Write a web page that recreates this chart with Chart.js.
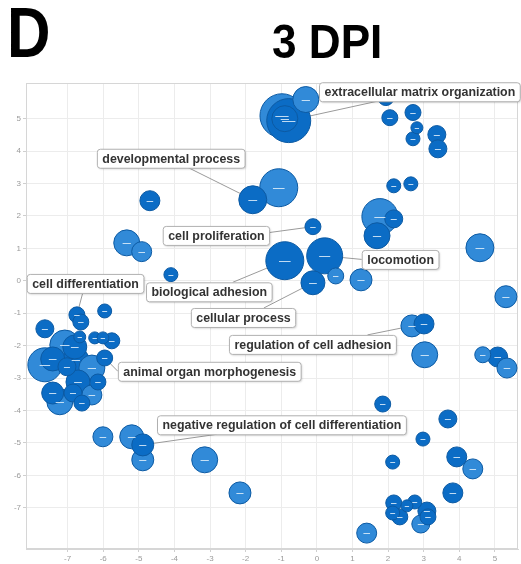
<!DOCTYPE html>
<html>
<head>
<meta charset="utf-8">
<script src="https://cdn.jsdelivr.net/npm/chart.js@4/dist/chart.umd.min.js"></script>
<style>
  html, body { margin: 0; padding: 0; background: #fff; }
  canvas { display: block; }
</style>
</head>
<body>
<canvas id="bubble-chart" width="521" height="564"></canvas>
<script>
// tick labels
var xTicks = [-7, -6, -5, -4, -3, -2, -1, 0, 1, 2, 3, 4, 5];
var yTicks = [-7, -6, -5, -4, -3, -2, -1, 0, 1, 2, 3, 4, 5];

// bubble values (semantic space x, y, bubble size, shade 0 = dark / 1 = light)
var bubbleX = [-0.98, -0.79, -0.90, -0.31, 1.94, 2.05, 2.70, 2.81, 2.70, 3.37, 3.40,
  -1.07, -1.80, -4.69, -0.11, 2.16, 2.64, 1.77, 1.69, 2.16, -5.34, -4.92, 4.58, -4.10,
  -0.90, 0.22, -0.11, 0.53, 1.24, 5.31, 2.67, 3.01, 3.03, 4.66, 5.08, 5.34,
  1.85, 3.68, 2.98, 2.13, 3.93, 4.38, 3.82, 2.16, 2.53, 2.75, 2.13, 2.33, 3.09, 2.92, 3.12, 1.40,
  -6.01, -5.20, -4.89, -4.89, -3.15, -2.16,
  -7.64, -6.80, -7.42, -6.77, -7.02, -7.64, -6.74, -6.63, -5.96, -6.66, -6.24, -6.01, -5.76,
  -5.96, -6.15, -6.71, -7.42, -6.85, -7.22, -6.60, -6.32, -7.08, -6.32];
var bubbleY = [5.09, 4.94, 5.00, 5.59, 5.65, 5.03, 5.19, 4.72, 4.38, 4.51, 4.07,
  2.87, 2.50, 2.47, 1.67, 2.93, 2.99, 1.98, 1.39, 1.91, 1.17, 0.90, 1.02, 0.19,
  0.62, 0.77, -0.06, 0.15, 0.03, -0.49, -1.39, -1.33, -2.28, -2.28, -2.35, -2.69,
  -3.80, -4.26, -4.88, -5.59, -5.43, -5.80, -6.54, -6.85, -6.94, -6.82, -7.16, -7.28, -7.10, -7.50, -7.28, -7.78,
  -4.81, -4.81, -5.52, -5.06, -5.52, -6.54,
  -2.59, -2.04, -2.41, -2.44, -2.65, -1.48, -1.05, -1.27, -0.93, -1.73, -1.76, -1.76, -1.85,
  -2.38, -3.12, -3.12, -3.46, -3.46, -3.73, -3.77, -3.52, -1.98, -2.69];
var bubbleSize = [22, 22, 13, 13, 8, 8, 8, 6, 7, 9, 9,
  19, 14, 10, 8, 7, 7, 18, 13, 9, 13, 10, 14, 7,
  19, 18, 12, 8, 11, 11, 11, 10, 13, 8, 10, 10,
  8, 9, 7, 7, 10, 10, 10, 8, 6, 7, 7, 8, 9, 9, 8, 10,
  10, 12, 11, 11, 13, 11,
  17, 12, 12, 13, 9, 9, 8, 8, 7, 6, 6, 6, 8,
  8, 8, 12, 11, 9, 13, 8, 10, 15, 13];
var bubbleShade = [1, 0, 0, 1, 0, 0, 0, 0, 0, 0, 0,
  1, 0, 0, 0, 0, 0, 1, 0, 0, 1, 1, 1, 0,
  0, 0, 0, 1, 1, 1, 1, 0, 1, 1, 0, 1,
  0, 0, 0, 0, 0, 1, 0, 0, 0, 0, 0, 0, 0, 1, 0, 1,
  1, 1, 1, 0, 1, 1,
  1, 0, 0, 0, 0, 0, 0, 0, 0, 0, 0, 0, 0,
  0, 0, 0, 0, 0, 1, 0, 1, 1, 1];

// GO term labels: text, bubble they point at
var termText = ['extracellular matrix organization', 'developmental process', 'cell proliferation',
  'cell differentiation', 'biological adhesion', 'cellular process', 'locomotion',
  'regulation of cell adhesion', 'animal organ morphogenesis', 'negative regulation of cell differentiation'];
var termBubble = [1, 12, 14, 64, 24, 26, 25, 30, 71, 55];

// where the label boxes sit (box left, box middle in axis units) and where the leader leaves the box
var boxPlace = [
  { x: 0.06, y: 5.83, fx: 0.29, fy: 1 },
  { x: -6.18, y: 3.78, fx: 0.62, fy: 1 },
  { x: -4.33, y: 1.40, fx: 1, fy: 0.35 },
  { x: -8.15, y: -0.08, fx: 0.48, fy: 1 },
  { x: -4.80, y: -0.34, fx: 0.69, fy: 0 },
  { x: -3.54, y: -1.13, fx: 0.7, fy: 0 },
  { x: 1.26, y: 0.66, fx: 0, fy: 0.5 },
  { x: -2.47, y: -1.96, fx: 0.83, fy: 0 },
  { x: -5.59, y: -2.79, fx: 0, fy: 0.5 },
  { x: -4.49, y: -4.44, fx: 0.24, fy: 1 }
];

var DARK = '#0b6cc5';
var LIGHT = '#318ad8';
var LABEL_FONT = 'bold 12.4px "Liberation Sans", Arial, sans-serif';

// bigger bubbles go underneath
var order = bubbleSize.map(function (r, i) { return i; });
order.sort(function (a, b) { return bubbleSize[b] - bubbleSize[a]; });

var points = [];
var fills = [];
for (var i = 0; i < order.length; i++) {
  var k = order[i];
  points.push({ x: bubbleX[k], y: bubbleY[k], r: bubbleSize[k], idx: k });
  fills.push(bubbleShade[k] ? LIGHT : DARK);
}

function boxRect(chart, j) {
  var ctx = chart.ctx;
  ctx.font = LABEL_FONT;
  var w = ctx.measureText(termText[j]).width + 10;
  var h = 19;
  var left = chart.scales.x.getPixelForValue(boxPlace[j].x);
  var mid = chart.scales.y.getPixelForValue(boxPlace[j].y);
  return { left: left, top: mid - h / 2, w: w, h: h };
}

function bubbleCenter(chart, idx) {
  return {
    x: chart.scales.x.getPixelForValue(bubbleX[idx]),
    y: chart.scales.y.getPixelForValue(bubbleY[idx])
  };
}

var frameAndTitles = {
  id: 'frameAndTitles',
  beforeDatasetsDraw: function (chart) {
    var ctx = chart.ctx;
    var a = chart.chartArea;
    ctx.save();
    ctx.strokeStyle = '#d6d6d6';
    ctx.lineWidth = 1;
    ctx.strokeRect(a.left + 0.5, a.top + 0.5, a.right - a.left - 1, a.bottom - a.top - 1);
    // leader lines, under the bubbles
    ctx.strokeStyle = '#9a9a9a';
    for (var j = 0; j < termText.length; j++) {
      var b = boxRect(chart, j);
      var c = bubbleCenter(chart, termBubble[j]);
      ctx.beginPath();
      ctx.moveTo(b.left + b.w * boxPlace[j].fx, b.top + b.h * boxPlace[j].fy);
      ctx.lineTo(c.x, c.y);
      ctx.stroke();
    }
    ctx.restore();
  },
  afterDatasetsDraw: function (chart) {
    var ctx = chart.ctx;
    var meta = chart.getDatasetMeta(0);
    ctx.save();
    // little dash in every bubble
    ctx.strokeStyle = 'rgba(225,238,250,0.85)';
    ctx.lineWidth = 1;
    meta.data.forEach(function (el, i) {
      var r = points[i].r;
      var half = r * 0.28 + 0.5;
      ctx.beginPath();
      ctx.moveTo(el.x - half, Math.round(el.y) + 0.5);
      ctx.lineTo(el.x + half, Math.round(el.y) + 0.5);
      ctx.stroke();
    });
    // label boxes
    for (var j = 0; j < termText.length; j++) {
      var b = boxRect(chart, j);
      ctx.shadowColor = 'rgba(0,0,0,0.18)';
      ctx.shadowBlur = 2;
      ctx.shadowOffsetX = 1;
      ctx.shadowOffsetY = 1;
      ctx.fillStyle = '#ffffff';
      ctx.beginPath();
      ctx.roundRect(b.left + 0.5, b.top + 0.5, b.w, b.h, 3);
      ctx.fill();
      ctx.shadowColor = 'transparent';
      ctx.strokeStyle = '#b0b0b0';
      ctx.stroke();
      ctx.fillStyle = '#333333';
      ctx.font = LABEL_FONT;
      ctx.textBaseline = 'middle';
      ctx.textAlign = 'left';
      ctx.fillText(termText[j], b.left + 5.5, b.top + b.h / 2 + 1);
    }
    ctx.restore();
  },
  afterDraw: function (chart) {
    var ctx = chart.ctx;
    ctx.save();
    ctx.fillStyle = '#000';
    ctx.textBaseline = 'alphabetic';
    ctx.textAlign = 'left';
    ctx.font = 'bold 70px "Liberation Sans", Arial, sans-serif';
    ctx.translate(7, 57);
    ctx.scale(0.86, 1);
    ctx.fillText('D', 0, 0);
    ctx.restore();
    ctx.save();
    ctx.fillStyle = '#000';
    ctx.textBaseline = 'alphabetic';
    ctx.textAlign = 'left';
    ctx.font = 'bold 49px "Liberation Sans", Arial, sans-serif';
    ctx.translate(272, 58);
    ctx.scale(0.9, 1);
    ctx.fillText('3 DPI', 0, 0);
    ctx.restore();
  }
};

var chartEl = document.getElementById('bubble-chart');
var myChart = new Chart(chartEl, {
  type: 'bubble',
  data: {
    datasets: [
      {
        label: 'GO terms',
        data: points,
        backgroundColor: fills,
        borderColor: '#0c5aa3',
        borderWidth: 1,
        hoverRadius: 0
      }
    ]
  },
  options: {
    responsive: false,
    animation: false,
    devicePixelRatio: 1,
    layout: { autoPadding: false, padding: { top: 83, right: 3, left: 0, bottom: 0 } },
    plugins: {
      legend: { display: false },
      tooltip: { enabled: false },
      title: { display: false }
    },
    scales: {
      x: {
        type: 'linear',
        min: -8.17,
        max: 5.65,
        afterBuildTicks: function (scale) {
          scale.ticks = xTicks.map(function (v) { return { value: v }; });
        },
        afterFit: function (scale) { scale.height = 15; },
        grid: { color: '#ececec', tickLength: 3, tickColor: '#cfcfcf' },
        border: { color: '#d6d6d6' },
        ticks: {
          color: '#9a9a9a',
          padding: 2,
          maxRotation: 0,
          font: { size: 8, family: '"Liberation Sans", Arial, sans-serif' }
        }
      },
      y: {
        type: 'linear',
        min: -8.27,
        max: 6.1,
        afterBuildTicks: function (scale) {
          scale.ticks = yTicks.map(function (v) { return { value: v }; });
        },
        afterFit: function (scale) { scale.width = 26; },
        grid: { color: '#ececec', tickLength: 3, tickColor: '#cfcfcf' },
        border: { color: '#d6d6d6' },
        ticks: {
          color: '#9a9a9a',
          padding: 2,
          font: { size: 8, family: '"Liberation Sans", Arial, sans-serif' }
        }
      }
    }
  },
  plugins: [frameAndTitles]
});
</script>
</body>
</html>
